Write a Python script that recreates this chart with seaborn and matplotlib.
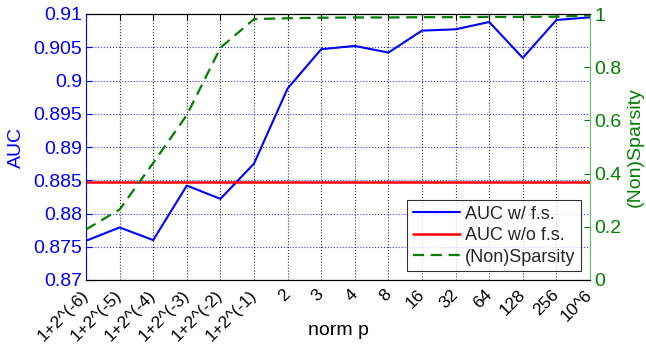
import numpy as np
import pandas as pd
import matplotlib
matplotlib.use("Agg")
import matplotlib.pyplot as plt
import seaborn as sns

# data
norm_labels = ["1+2^(-6)", "1+2^(-5)", "1+2^(-4)", "1+2^(-3)", "1+2^(-2)", "1+2^(-1)",
               "2", "3", "4", "8", "16", "32", "64", "128", "256", "10^6"]
auc_fs = [0.8759, 0.8779, 0.8760, 0.8842, 0.8822, 0.8875, 0.8988, 0.9047,
          0.9052, 0.9042, 0.9075, 0.9077, 0.9088, 0.9034, 0.9091, 0.9095]
auc_nofs = 0.8848
nonsparsity = [0.19, 0.265, 0.44, 0.62, 0.873, 0.981, 0.984, 0.986,
               0.987, 0.987, 0.988, 0.988, 0.989, 0.989, 0.99, 0.995]

pos = np.arange(1, len(norm_labels) + 1)
df = pd.DataFrame({"pos": pos, "auc": auc_fs, "nofs": [auc_nofs] * len(pos),
                   "spars": nonsparsity})

sns.set_style("white")
plt.rcParams["font.family"] = ["Liberation Sans", "DejaVu Sans"]
plt.rcParams["xtick.direction"] = "in"
plt.rcParams["ytick.direction"] = "in"

BLUE = "#0000ff"
GREEN = "#008000"

fig = plt.figure(figsize=(6.46, 3.47), dpi=100)
ax = fig.add_axes([86 / 646, 1 - 280 / 347, 504 / 646, 266 / 347])
ax2 = ax.twinx()

sns.lineplot(data=df, x="pos", y="auc", ax=ax, color=BLUE, lw=1.5, label="AUC w/ f.s.")
sns.lineplot(data=df, x="pos", y="nofs", ax=ax, color="red", lw=1.8, label="AUC w/o f.s.")
sns.lineplot(data=df, x="pos", y="spars", ax=ax2, color=GREEN, lw=1.6, ls="--",
             label="(Non)Sparsity")
for ln in ax2.get_lines():
    ln.set_dashes((5, 3))

ax.set_xlim(1, 16)
ax.set_ylim(0.87, 0.91)
ax2.set_ylim(0, 1)
ax.set_yticks(np.arange(0.87, 0.9101, 0.005))
ax.set_yticklabels(["0.87", "0.875", "0.88", "0.885", "0.89", "0.895", "0.9", "0.905", "0.91"])
ax2.set_yticks([0, 0.2, 0.4, 0.6, 0.8, 1])
ax2.set_yticklabels(["0", "0.2", "0.4", "0.6", "0.8", "1"])

ax.set_xticks(pos)
ax.set_xticklabels(norm_labels, rotation=45, ha="right", va="center",
                   rotation_mode="anchor", fontsize=12.5)
ax.tick_params(axis="x", colors="black", length=4, top=True, pad=9)
ax.tick_params(axis="y", colors=BLUE, labelsize=14, length=4, pad=3)
ax2.tick_params(axis="y", colors=GREEN, labelsize=14, length=4, pad=3)

ax.grid(axis="x", color="black", ls=":", lw=0.8, alpha=0.8)
ax.grid(axis="y", color=BLUE, ls=":", lw=0.8, alpha=0.8)

ax.set_xlabel("norm p", fontsize=14, color="black")
ax.xaxis.set_label_coords(0.5, -0.188)
ax.xaxis.label.set_va("center")
ax.set_ylabel("AUC", fontsize=14, color=BLUE)
ax.yaxis.set_label_coords(-0.137, 0.5)
ax.yaxis.label.set_va("center")
ax2.set_ylabel("(Non)Sparsity", fontsize=14, color=GREEN)
ax2.yaxis.set_label_coords(1.089, 0.5)
ax2.yaxis.label.set_va("center")

for a in (ax, ax2):
    for side in ("top", "bottom"):
        a.spines[side].set_color("black")
        a.spines[side].set_visible(True)
ax.spines["left"].set_color(BLUE)
ax2.spines["left"].set_visible(False)
ax2.spines["right"].set_color("#66bb66")
ax.spines["right"].set_visible(False)

h1, l1 = ax.get_legend_handles_labels()
h2, l2 = ax2.get_legend_handles_labels()
if ax2.get_legend():
    ax2.get_legend().remove()
leg = ax2.legend(h1 + h2, l1 + l2, loc="lower right", fontsize=13, frameon=True,
                 fancybox=False, edgecolor="black", handlelength=2.6,
                 borderaxespad=0.5, labelspacing=0.25, borderpad=0.3, handletextpad=0.3)
leg.get_frame().set_linewidth(0.8)
if ax.get_legend():
    ax.get_legend().remove()

fig.savefig("out.png", dpi=100)
